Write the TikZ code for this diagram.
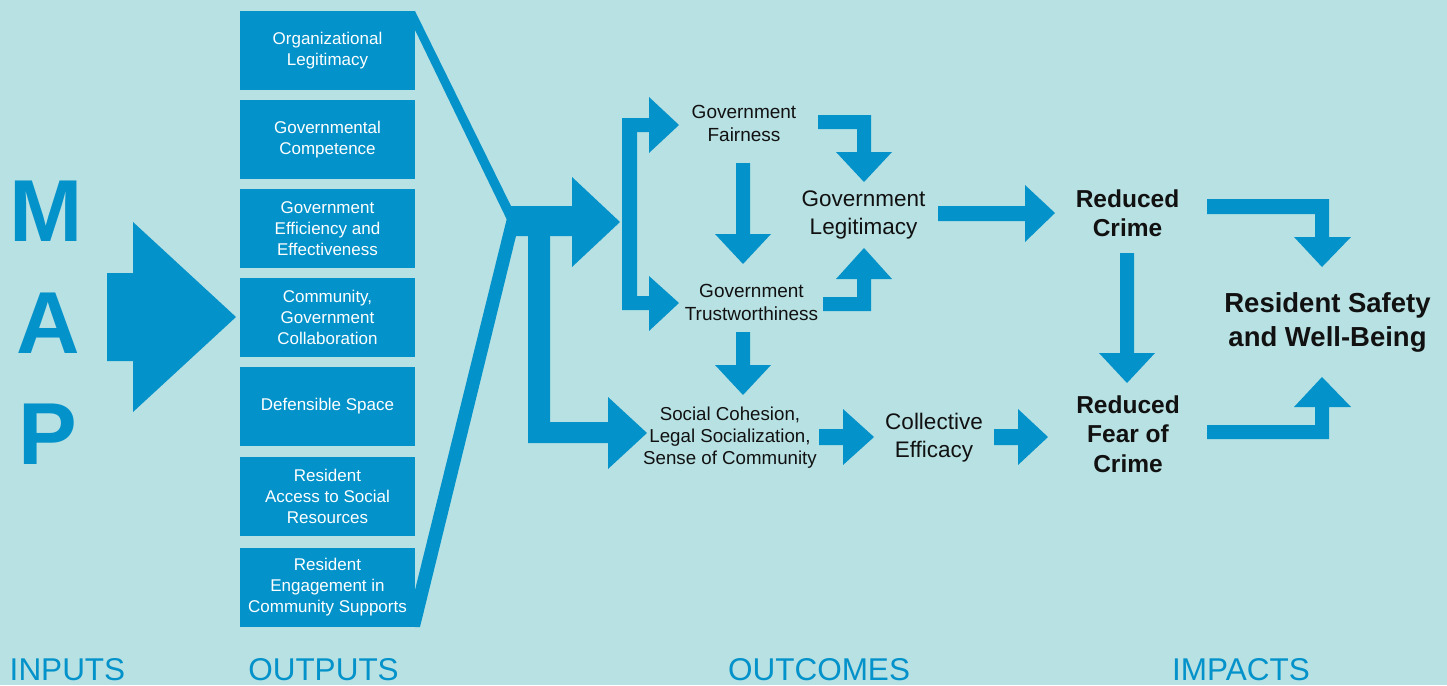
\documentclass[tikz,border=0pt]{standalone}
\usepackage{fontspec}
\setmainfont{Liberation Sans}
\definecolor{bgcyan}{HTML}{B8E1E3}
\definecolor{mapblue}{HTML}{0392CA}
\definecolor{inkblack}{HTML}{111111}
\begin{document}
\begin{tikzpicture}[x=1pt,y=-1pt,
  blockarrow/.style={fill=mapblue,draw=none},
  outbox/.style={fill=mapblue,text=white,minimum width=175pt,minimum height=79pt,
    inner sep=0pt,align=center,font=\fontsize{17}{21}\selectfont},
  mapletter/.style={text=mapblue,inner sep=0pt,anchor=base,
    font=\fontsize{88}{88}\selectfont\bfseries},
  stagelabel/.style={text=mapblue,inner sep=0pt,anchor=base,
    font=\fontsize{31.5}{32}\selectfont},
  smalltext/.style={text=inkblack,inner sep=0pt,align=center,
    font=\fontsize{19}{23}\selectfont},
  socialtext/.style={text=inkblack,inner sep=0pt,align=center,
    font=\fontsize{18.7}{22}\selectfont},
  midtext/.style={text=inkblack,inner sep=0pt,align=center,
    font=\fontsize{22.5}{28}\selectfont},
  impacttext/.style={text=inkblack,inner sep=0pt,align=center,
    font=\fontsize{24.5}{29.5}\selectfont\bfseries},
  finaltext/.style={text=inkblack,inner sep=0pt,align=center,
    font=\fontsize{27.5}{33.5}\selectfont\bfseries}]

% background
\fill[bgcyan] (0,0) rectangle (1447,685);
\useasboundingbox (0,0) rectangle (1447,685);

% inputs column
\node[mapletter] (m) at (46.5,241) {M};
\node[mapletter] (a) at (48.5,353) {A};
\node[mapletter] (p) at (47.5,464) {P};
\fill[blockarrow] (107,273) -- (133,273) -- (133,222) -- (236,317) -- (133,412)
  -- (133,361) -- (107,361) -- cycle;

% outputs column
\node[outbox] (o1) at (327.5,50.5) {Organizational\\Legitimacy};
\node[outbox] (o2) at (327.5,139.5) {Governmental\\Competence};
\node[outbox] (o3) at (327.5,228.5) {Government\\Efficiency and\\Effectiveness};
\node[outbox] (o4) at (327.5,317.5) {Community,\\Government\\Collaboration};
\node[outbox] (o5) at (327.5,406.5) {Defensible Space};
\node[outbox] (o6) at (327.5,496.5) {Resident\\Access to Social\\Resources};
\node[outbox] (o7) at (327.5,587.5) {Resident\\Engagement in\\Community Supports};

% funnel gathering all outputs
\fill[blockarrow] (415,11) -- (511,206) -- (508,222) -- (415,30) -- cycle;
\fill[blockarrow] (415,627) -- (415,590) -- (506,222) -- (508,214) -- (516,236)
  -- (420,627) -- cycle;
\fill[blockarrow] (509,206) -- (572,206) -- (572,177) -- (620,222) -- (572,267)
  -- (572,236) -- (509,236) -- cycle;
\fill[blockarrow] (528,230) -- (550,230) -- (550,422) -- (608,422) -- (608,397)
  -- (647,433) -- (608,469) -- (608,443) -- (528,443) -- cycle;

% bracket feeding fairness and trustworthiness
\fill[blockarrow] (622,118) -- (649,118) -- (649,97) -- (679,125) -- (649,153)
  -- (649,132) -- (637,132) -- (637,296) -- (649,296) -- (649,276) -- (679,303)
  -- (649,331) -- (649,310) -- (622,310) -- cycle;

% outcomes
\node[smalltext] (fair) at (744,123.7) {Government\\Fairness};
\node[smalltext] (trust) at (751.5,302) {Government\\Trustworthiness};
\node[midtext] (legit) at (863.5,215) {Government\\Legitimacy};
\node[socialtext] (social) at (730,438) {Social Cohesion,\\Legal Socialization,\\Sense of Community};
\node[midtext] (coll) at (934,438) {Collective\\Efficacy};

% fairness -> trustworthiness
\fill[blockarrow] (736,163) -- (750,163) -- (750,234) -- (771,234) -- (743,264)
  -- (715,234) -- (736,234) -- cycle;
% fairness -> legitimacy
\fill[blockarrow] (818,115) -- (871,115) -- (871,152) -- (892,152) -- (864,182)
  -- (836,152) -- (857,152) -- (857,129) -- (818,129) -- cycle;
% trustworthiness -> legitimacy
\fill[blockarrow] (823,311) -- (871,311) -- (871,279) -- (892,279) -- (864,248)
  -- (836,279) -- (857,279) -- (857,297) -- (823,297) -- cycle;
% trustworthiness -> social cohesion
\fill[blockarrow] (736,332) -- (750,332) -- (750,365) -- (771,365) -- (743,395)
  -- (715,365) -- (736,365) -- cycle;
% social cohesion -> collective efficacy
\fill[blockarrow] (819,429) -- (843,429) -- (843,409) -- (874,437) -- (843,465)
  -- (843,445) -- (819,445) -- cycle;
% collective efficacy -> reduced fear
\fill[blockarrow] (994,429) -- (1018,429) -- (1018,409) -- (1048,437) -- (1018,465)
  -- (1018,445) -- (994,445) -- cycle;
% legitimacy -> reduced crime
\fill[blockarrow] (938,206) -- (1025,206) -- (1025,185) -- (1055,213) -- (1025,242)
  -- (1025,221) -- (938,221) -- cycle;

% impacts
\node[impacttext] (crime) at (1127.5,213) {Reduced\\Crime};
\node[impacttext] (fear) at (1128,434) {Reduced\\Fear of\\Crime};
\node[finaltext] (safety) at (1327.5,322.4) {Resident Safety\\and Well-Being};

% reduced crime -> reduced fear
\fill[blockarrow] (1120,253) -- (1134,253) -- (1134,353) -- (1155,353) -- (1127,383)
  -- (1099,353) -- (1120,353) -- cycle;
% reduced crime -> safety
\fill[blockarrow] (1207,199) -- (1329,199) -- (1329,237) -- (1351,237) -- (1322,267)
  -- (1294,237) -- (1315,237) -- (1315,214) -- (1207,214) -- cycle;
% reduced fear -> safety
\fill[blockarrow] (1207,439) -- (1329,439) -- (1329,407) -- (1351,407) -- (1322,377)
  -- (1294,407) -- (1315,407) -- (1315,425) -- (1207,425) -- cycle;

% stage labels
\node[stagelabel] (inputs) at (67.5,680) {INPUTS};
\node[stagelabel] (outputs) at (323.5,680) {OUTPUTS};
\node[stagelabel] (outcomes) at (819,680) {OUTCOMES};
\node[stagelabel] (impacts) at (1241,680) {IMPACTS};
\end{tikzpicture}
\end{document}
